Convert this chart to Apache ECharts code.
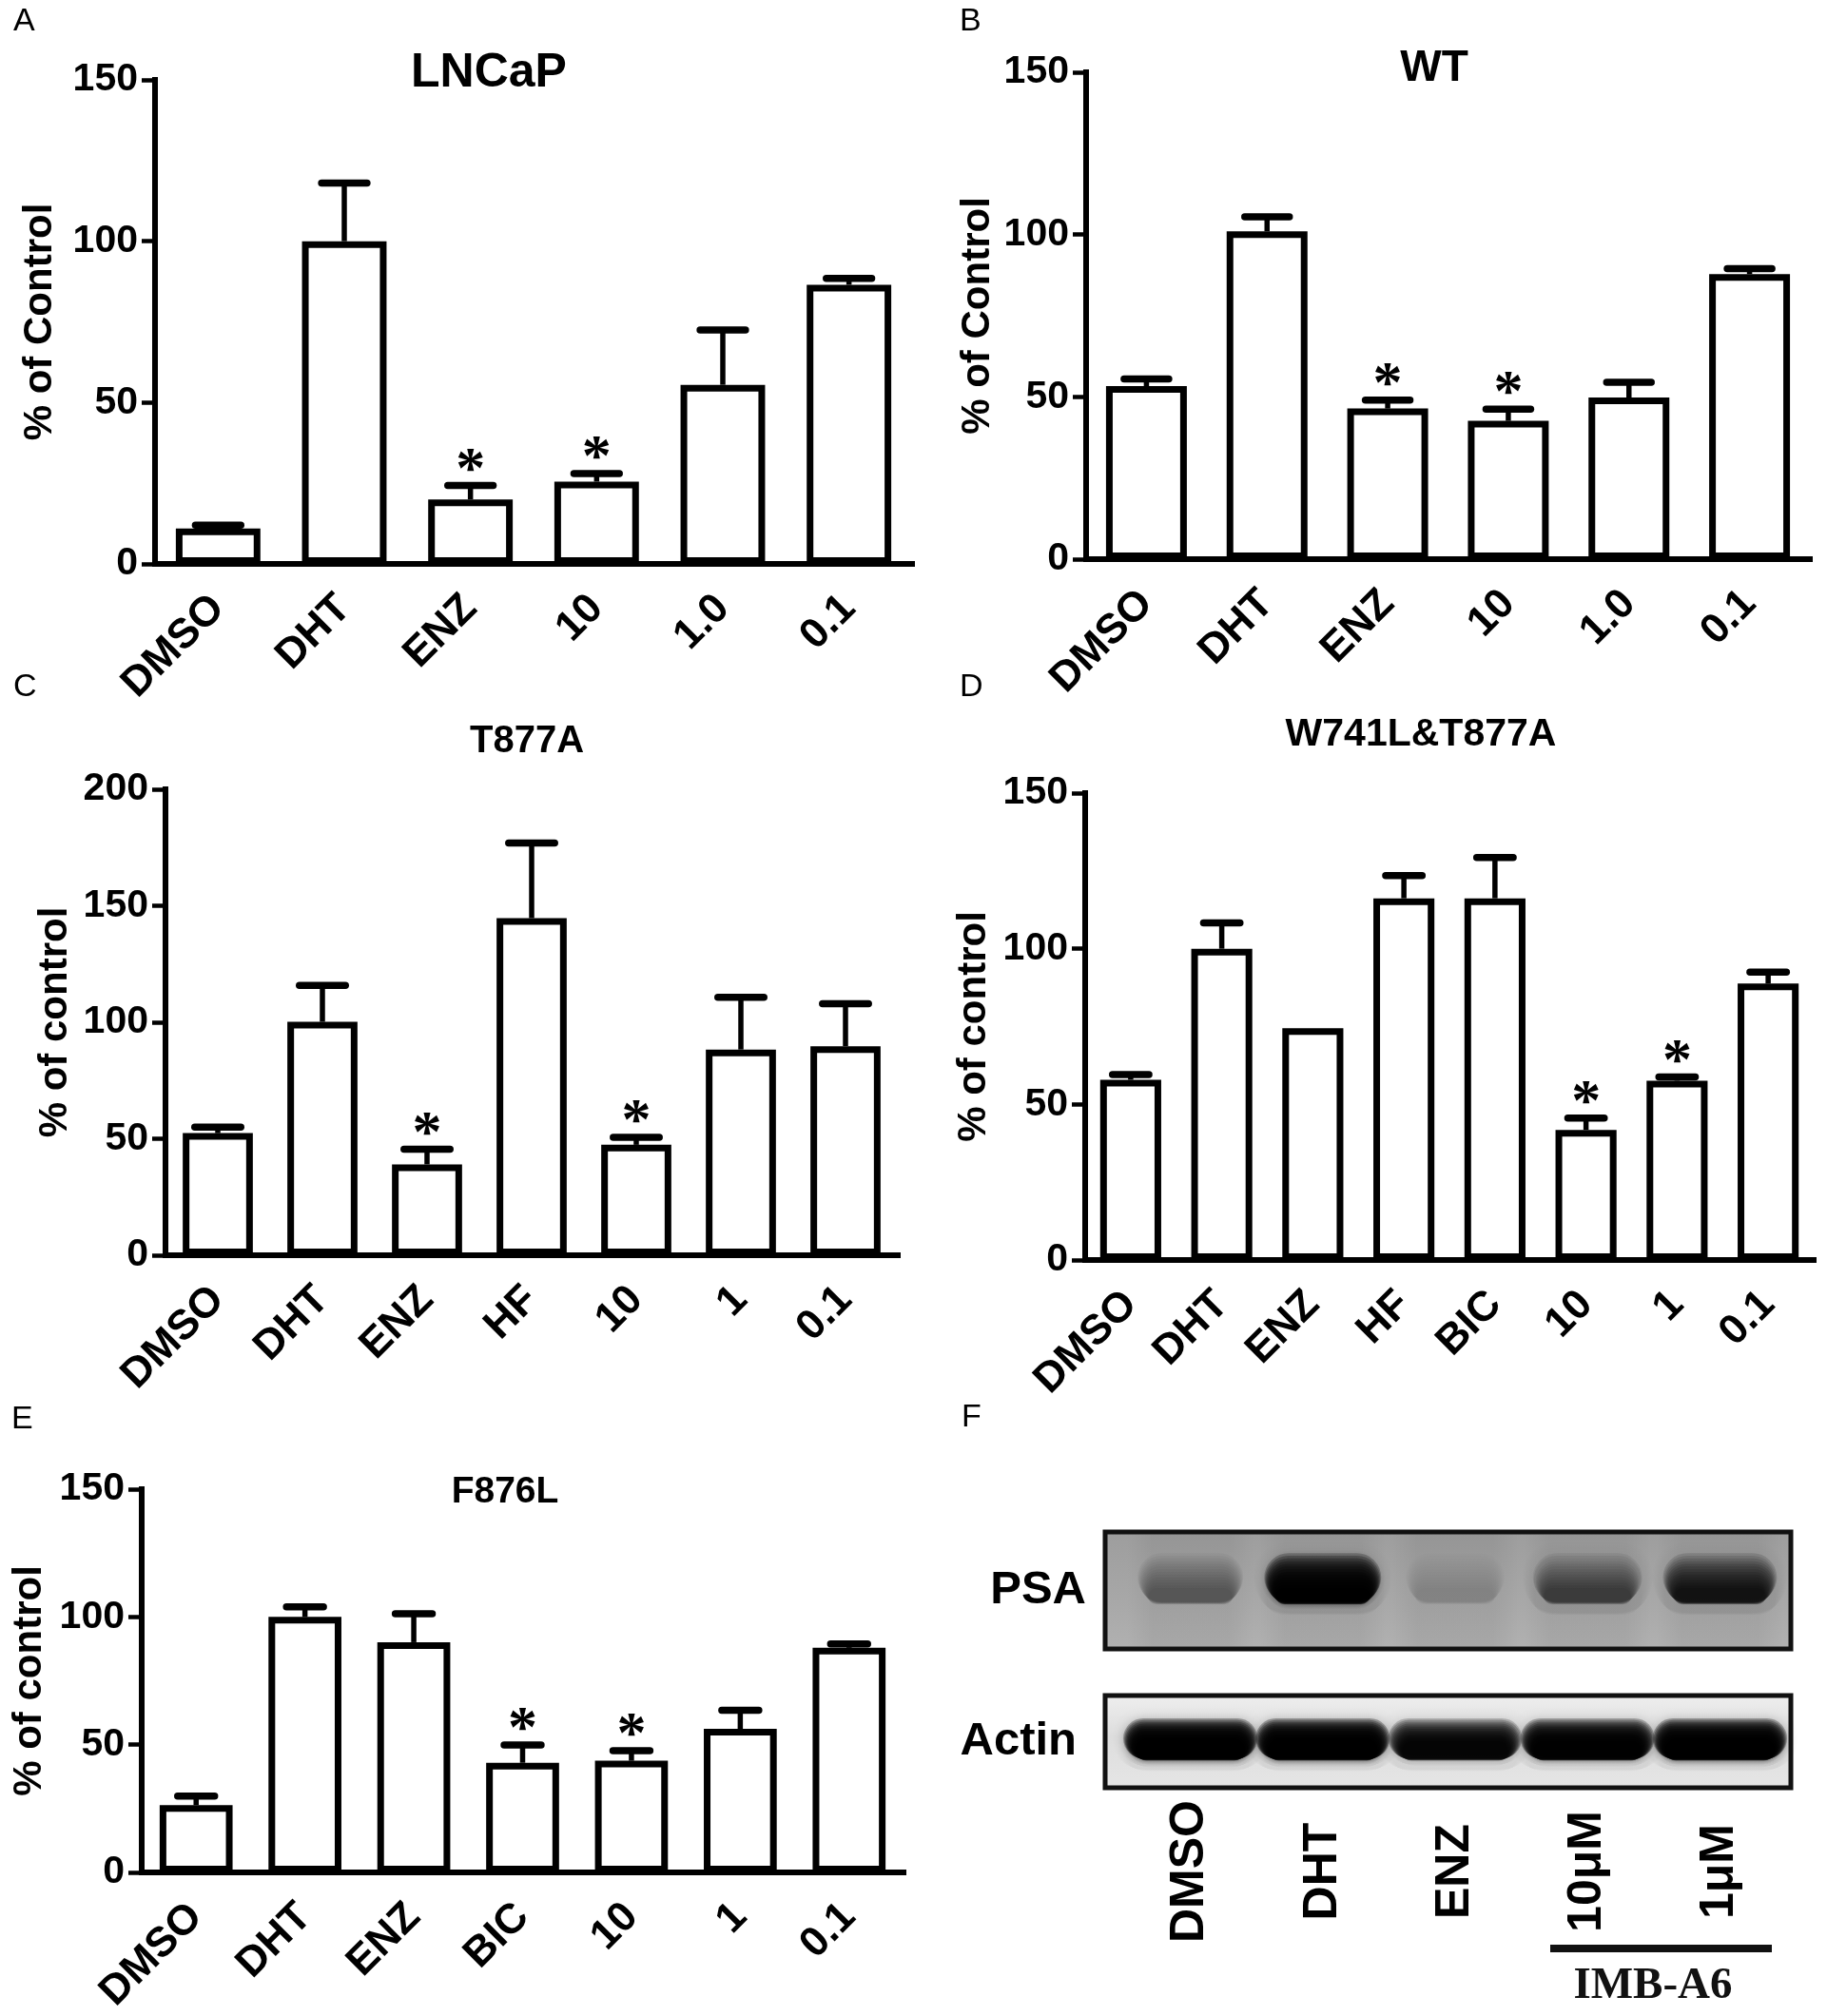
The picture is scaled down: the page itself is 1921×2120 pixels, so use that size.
<!DOCTYPE html>
<html>
<head>
<meta charset="utf-8">
<script src="https://cdn.jsdelivr.net/npm/echarts@6/dist/echarts.min.js"></script>
<style>
html, body { margin: 0; padding: 0; background: #fff; }
#main { width: 1921px; height: 2120px; }
</style>
</head>
<body>
<div id="main"></div>
<script>
// A - LNCaP
const catsA = ['DMSO', 'DHT', 'ENZ', '10', '1.0', '0.1'];
const meanA = [11, 100, 20, 25.5, 55.5, 86.5];
const semA = [1, 18, 4.3, 2.5, 17, 2];
const starA = [0, 0, 1, 1, 0, 0];

// B - WT
const catsB = ['DMSO', 'DHT', 'ENZ', '10', '1.0', '0.1'];
const meanB = [53.3, 101, 46.4, 42.6, 49.8, 87.8];
const semB = [2.2, 4.5, 2.6, 3.6, 4.7, 1.7];
const starB = [0, 0, 1, 1, 0, 0];

// C - T877A
const catsC = ['DMSO', 'DHT', 'ENZ', 'HF', '10', '1', '0.1'];
const meanC = [52.4, 100.2, 39, 144.7, 47.4, 88.3, 89.7];
const semC = [2.6, 15.6, 6.5, 32.2, 3.2, 22.4, 18.3];
const starC = [0, 0, 1, 0, 1, 0, 0];

// D - W741L&T877A
const catsD = ['DMSO', 'DHT', 'ENZ', 'HF', 'BIC', '10', '1', '0.1'];
const meanD = [57.9, 100, 74.5, 116.2, 116.2, 41.8, 57.6, 88.8];
const semD = [1.7, 8.3, 0, 7.3, 13.1, 3.8, 1.2, 3.7];
const starD = [0, 0, 0, 0, 0, 1, 1, 0];

// E - F876L
const catsE = ['DMSO', 'DHT', 'ENZ', 'BIC', '10', '1', '0.1'];
const meanE = [26.3, 100, 90.1, 42.9, 43.7, 56.2, 87.9];
const semE = [3.6, 3.9, 11.1, 7, 3.9, 7.3, 1.5];
const starE = [0, 0, 0, 1, 1, 0, 0];

// F - western blot (relative band darkness)
const blotLanes = ['DMSO', 'DHT', 'ENZ', '10μM', '1μM'];
const psaLevel = [0.42, 0.98, 0.1, 0.6, 0.84];
const actinLevel = [0.99, 0.99, 0.95, 0.98, 0.99];

const FONT = 'Liberation Sans, Arial, sans-serif';

const panels = [
  { title: 'LNCaP', cats: catsA, mean: meanA, sem: semA, star: starA, max: 150, name: '% of Control',
    grid: { left: 163, top: 84, width: 796, height: 509 }, nameGap: 100, cap: 0.36,
    tx: 514, ty: 77, tsize: 50 },
  { title: 'WT', cats: catsB, mean: meanB, sem: semB, star: starB, max: 150, name: '% of Control',
    grid: { left: 1142, top: 76, width: 761, height: 512 }, nameGap: 93, cap: 0.37,
    tx: 1508, ty: 72, tsize: 46 },
  { title: 'T877A', cats: catsC, mean: meanC, sem: semC, star: starC, max: 200, name: '% of control',
    grid: { left: 174, top: 830, width: 770, height: 490 }, nameGap: 95, cap: 0.44,
    tx: 554, ty: 780, tsize: 40 },
  { title: 'W741L&T877A', cats: catsD, mean: meanD, sem: semD, star: starD, max: 150, name: '% of control',
    grid: { left: 1141, top: 834, width: 766, height: 491 }, nameGap: 96, cap: 0.4,
    tx: 1494, ty: 773, tsize: 41 },
  { title: 'F876L', cats: catsE, mean: meanE, sem: semE, star: starE, max: 150, name: '% of control',
    grid: { left: 149, top: 1566, width: 801, height: 425 }, nameGap: 97, cap: 0.34,
    tx: 531, ty: 1569, tsize: 39 }
];

const letters = [
  { t: 'A', x: 14, y: 6 }, { t: 'B', x: 1009, y: 6 },
  { t: 'C', x: 14, y: 706 }, { t: 'D', x: 1009, y: 706 },
  { t: 'E', x: 12, y: 1476 }, { t: 'F', x: 1011, y: 1474 }
];

const axisLineStyle = { color: '#000', width: 6, cap: 'square' };

const option = {
  backgroundColor: '#fff',
  animation: false,
  grid: [], xAxis: [], yAxis: [], series: [], graphic: []
};

panels.forEach((p, i) => {
  option.grid.push(p.grid);
  option.xAxis.push({
    type: 'category', gridIndex: i, data: p.cats,
    axisLine: { lineStyle: axisLineStyle },
    axisTick: { alignWithLabel: true, length: 13, lineStyle: { color: '#000', width: 4.5 } },
    axisLabel: { interval: 0, rotate: 45, margin: 40, fontSize: 44, fontWeight: 'bold', color: '#000', fontFamily: FONT }
  });
  option.yAxis.push({
    type: 'value', gridIndex: i, min: 0, max: p.max, interval: 50,
    splitLine: { show: false },
    axisLine: { show: true, lineStyle: axisLineStyle },
    axisTick: { show: true, length: 14, lineStyle: { color: '#000', width: 4.5 } },
    axisLabel: { margin: 18, fontSize: 41, fontWeight: 'bold', color: '#000', fontFamily: FONT },
    name: p.name, nameLocation: 'middle', nameGap: p.nameGap,
    nameTextStyle: { fontSize: 42, fontWeight: 'bold', color: '#000', fontFamily: FONT }
  });
  option.series.push({
    type: 'bar', xAxisIndex: i, yAxisIndex: i, data: p.mean, barWidth: '67%', silent: true,
    itemStyle: { color: '#fff', borderColor: '#000', borderWidth: 7 }
  });
  option.series.push({
    type: 'custom', xAxisIndex: i, yAxisIndex: i, silent: true, z: 5,
    data: p.cats.map((c, k) => [k, p.mean[k], p.mean[k] + p.sem[k], p.star[k]]),
    renderItem: (params, api) => {
      const k = api.value(0);
      const m = api.value(1);
      const t = api.value(2);
      const base = api.coord([k, m]);
      const top = api.coord([k, t]);
      const half = api.size([1, 0])[0] * p.cap / 2;
      const children = [];
      if (t > m) {
        children.push({ type: 'line', shape: { x1: base[0], y1: base[1], x2: top[0], y2: top[1] },
          style: { stroke: '#000', lineWidth: 5.5 } });
        children.push({ type: 'line', shape: { x1: top[0] - half, y1: top[1], x2: top[0] + half, y2: top[1] },
          style: { stroke: '#000', lineWidth: 7.5, lineCap: 'round' } });
      }
      if (api.value(3)) {
        children.push({ type: 'text', x: top[0], y: top[1] - 15,
          style: { text: '*', fontSize: 62, fontWeight: 'bold', fontFamily: 'Liberation Serif, serif',
            fill: '#000', align: 'center', verticalAlign: 'middle' } });
      }
      return { type: 'group', children };
    }
  });
  option.graphic.push({
    type: 'text', x: p.tx, y: p.ty, silent: true,
    style: { text: p.title, fontSize: p.tsize, fontWeight: 'bold', fontFamily: FONT, fill: '#000',
      align: 'center', verticalAlign: 'middle' }
  });
});

letters.forEach(l => {
  option.graphic.push({
    type: 'text', x: l.x, y: l.y, silent: true,
    style: { text: l.t, fontSize: 34, fontFamily: FONT, fill: '#000', align: 'left', verticalAlign: 'top' }
  });
});

// F - blot panels: frame drawn as a rect, lanes on a grid
const G = echarts.graphic;
const blots = [
  { label: 'PSA', level: psaLevel, box: { x: 1162, y: 1611, width: 721, height: 123 },
    grid: { left: 1182, top: 1611, width: 696, height: 123 }, margin: 40,
    bg: new G.LinearGradient(0, 0, 0, 1, [
      { offset: 0, color: '#9d9d9d' }, { offset: 0.5, color: '#a6a6a6' }, { offset: 1, color: '#b1b1b1' }]),
    shift: 0.05, h: 0.2, wBase: 0.68, wGain: 0.14, rise: 0.8, grow: 1.1, columns: true },
  { label: 'Actin', level: actinLevel, box: { x: 1162, y: 1783, width: 721, height: 97 },
    grid: { left: 1182, top: 1783, width: 696, height: 97 }, margin: 50,
    bg: new G.LinearGradient(0, 0, 0, 1, [
      { offset: 0, color: '#efefef' }, { offset: 0.45, color: '#dddddd' }, { offset: 1, color: '#e6e6e6' }]),
    shift: 0.1, h: 0.3, wBase: 0.84, wGain: 0.1, rise: 0.45, grow: 0.45, columns: false }
];

blots.forEach((b, j) => {
  const gi = panels.length + j;
  option.graphic.push({
    type: 'rect', silent: true, z: -1,
    shape: b.box,
    style: { fill: b.bg, stroke: '#111', lineWidth: 5 }
  });
  option.grid.push(b.grid);
  option.xAxis.push({
    type: 'category', gridIndex: gi, data: blotLanes,
    axisLine: { show: false }, axisTick: { show: false },
    axisLabel: j === 1
      ? { interval: 0, rotate: 90, align: 'center', verticalAlign: 'middle', margin: 88,
          fontSize: 50, fontWeight: 'bold', color: '#000', fontFamily: FONT }
      : { show: false }
  });
  option.yAxis.push({
    type: 'category', gridIndex: gi, data: [b.label],
    axisLine: { show: false }, axisTick: { show: false },
    axisLabel: { margin: b.margin, fontSize: 49, fontWeight: 'bold', color: '#000', fontFamily: FONT }
  });
  option.series.push({
    type: 'custom', xAxisIndex: gi, yAxisIndex: gi, silent: true,
    data: blotLanes.map((l, k) => [k, 0, b.level[k]]),
    renderItem: (params, api) => {
      const k = api.value(0);
      const a = api.value(2);
      const c = api.coord([k, 0]);
      const cs = params.coordSys;
      const band = api.size([1, 0])[0];
      const w = band * (b.wBase + b.wGain * a);
      const h = cs.height * b.h;
      const cy = c[1] + cs.height * b.shift;
      const children = [];
      if (b.columns) {
        children.push({ type: 'rect', shape: { x: c[0] - band * 0.48, y: cs.y + 3, width: band * 0.96, height: cs.height - 6 },
          style: { fill: new G.LinearGradient(0, 0, 1, 0, [
            { offset: 0, color: 'rgba(0,0,0,0)' }, { offset: 0.2, color: 'rgba(0,0,0,0.05)' },
            { offset: 0.8, color: 'rgba(0,0,0,0.05)' }, { offset: 1, color: 'rgba(0,0,0,0)' }]) } });
      }
      // soft band: stacked translucent layers, outer ones wider and raised
      const n = 14;
      const la = 1 - Math.pow(1 - a, 1 / n);
      for (let i = 0; i < n; i++) {
        const t = i / (n - 1);
        const lw = w * (1.08 - 0.22 * t);
        const lh = h * (1 + b.grow * (1 - t) - 0.3 * t);
        const ly = cy - h * b.rise * (1 - t);
        children.push({
          type: 'rect',
          shape: { x: c[0] - lw / 2, y: ly - lh / 2, width: lw, height: lh, r: Math.min(lh / 2, lw / 2) },
          style: { fill: 'rgba(0,0,0,' + la + ')', shadowBlur: 10, shadowColor: 'rgba(0,0,0,' + la + ')' }
        });
      }
      return { type: 'group', children };
    }
  });
});

option.graphic.push({
  type: 'line', silent: true,
  shape: { x1: 1630, y1: 2049, x2: 1863, y2: 2049 },
  style: { stroke: '#111', lineWidth: 8 }
});
option.graphic.push({
  type: 'text', x: 1738, y: 2089, silent: true,
  style: { text: 'IMB-A6', fontSize: 47, fontWeight: 'bold', fontFamily: 'Liberation Serif, Times New Roman, serif',
    fill: '#111', align: 'center', verticalAlign: 'middle' }
});

const chart = echarts.init(document.getElementById('main'), null, { renderer: 'canvas' });
chart.setOption(option);
</script>
</body>
</html>
